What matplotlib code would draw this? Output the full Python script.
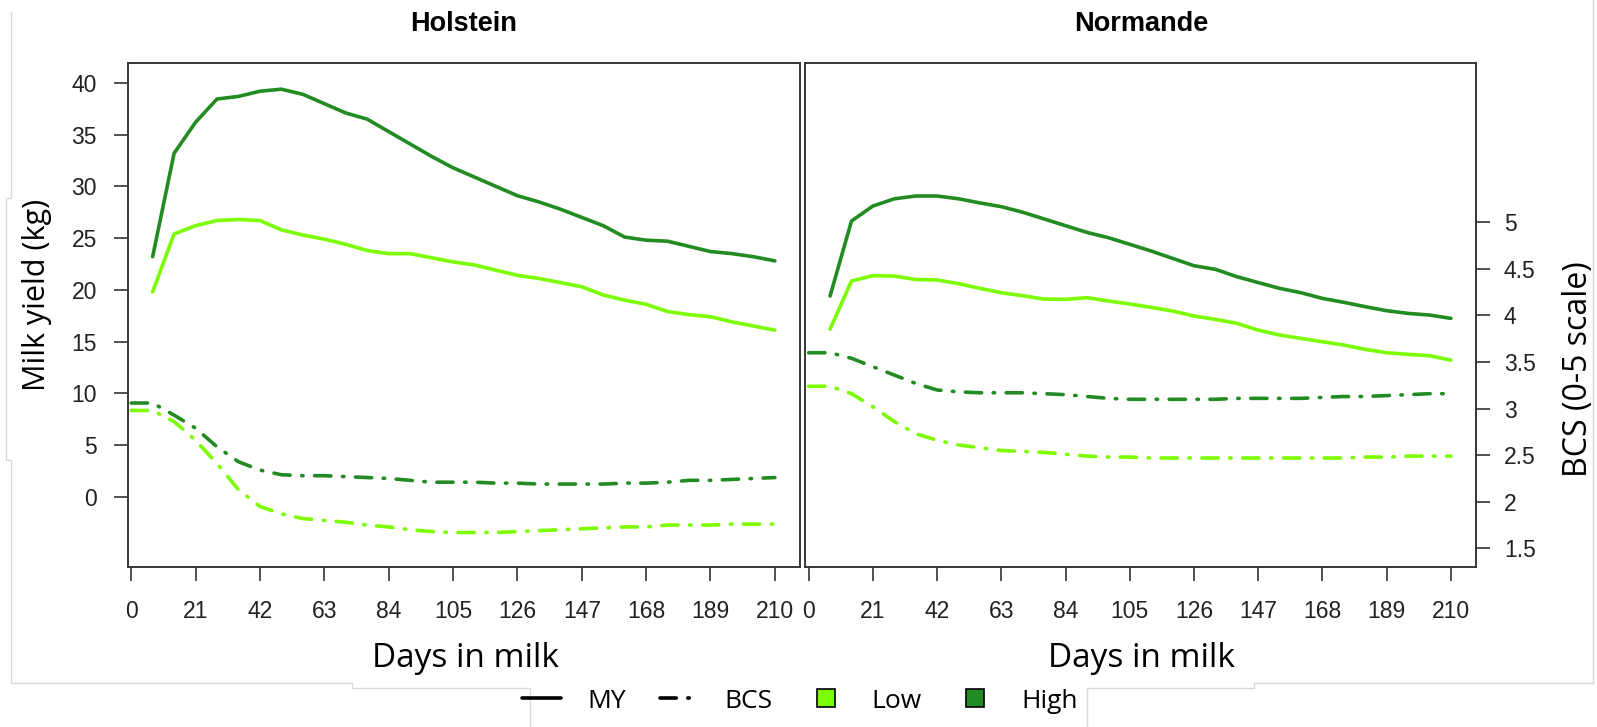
#!/usr/bin/env python3

"""
Milk yield and body condition score curves for Holstein and Normande cows
(low vs high feeding level).
"""

import matplotlib.pyplot as plt
from matplotlib.lines import Line2D

days_my = list(range(7, 211, 7))
days_bcs = list(range(0, 211, 7))

hol_my_high = [23.2, 33.2, 36.2, 38.45, 38.7, 39.2, 39.4, 38.9, 38.0, 37.1,
               36.5, 35.3, 34.1, 32.9, 31.8, 30.9, 30.0, 29.1, 28.5, 27.8,
               27.0, 26.2, 25.1, 24.8, 24.7, 24.2, 23.7, 23.5, 23.2, 22.8]
hol_my_low = [19.8, 25.4, 26.2, 26.7, 26.8, 26.7, 25.8, 25.3, 24.9, 24.4,
              23.8, 23.5, 23.5, 23.1, 22.7, 22.4, 21.9, 21.4, 21.1, 20.7,
              20.3, 19.5, 19.0, 18.6, 17.9, 17.6, 17.4, 16.9, 16.5, 16.1]
nor_my_high = [19.4, 26.65, 28.1, 28.8, 29.07, 29.07, 28.8, 28.4, 28.04, 27.5,
               26.85, 26.2, 25.55, 25.04, 24.4, 23.75, 23.04, 22.33, 21.98,
               21.27, 20.7, 20.14, 19.72, 19.17, 18.79, 18.37, 17.98, 17.72,
               17.56, 17.24]
nor_my_low = [16.2, 20.85, 21.37, 21.33, 21.0, 20.95, 20.6, 20.14, 19.72,
              19.43, 19.1, 19.08, 19.24, 18.92, 18.63, 18.3, 17.95, 17.47,
              17.14, 16.76, 16.1, 15.63, 15.3, 14.98, 14.66, 14.24, 13.92,
              13.76, 13.63, 13.2]

hol_bcs_high = [3.06, 3.06, 2.93, 2.79, 2.59, 2.43, 2.34, 2.29, 2.28, 2.28,
                2.27, 2.26, 2.25, 2.23, 2.21, 2.21, 2.21, 2.20, 2.20, 2.19,
                2.19, 2.19, 2.19, 2.20, 2.20, 2.21, 2.23, 2.23, 2.24, 2.25,
                2.26]
hol_bcs_low = [2.98, 2.98, 2.86, 2.66, 2.41, 2.13, 1.95, 1.87, 1.82, 1.80,
               1.78, 1.75, 1.73, 1.70, 1.68, 1.67, 1.67, 1.67, 1.68, 1.69,
               1.70, 1.71, 1.72, 1.73, 1.73, 1.75, 1.75, 1.75, 1.76, 1.76,
               1.76]
nor_bcs_high = [3.60, 3.60, 3.54, 3.45, 3.36, 3.27, 3.20, 3.18, 3.17, 3.17,
                3.17, 3.16, 3.15, 3.13, 3.11, 3.10, 3.10, 3.10, 3.10, 3.10,
                3.11, 3.11, 3.11, 3.11, 3.12, 3.13, 3.13, 3.14, 3.15, 3.16,
                3.16]
nor_bcs_low = [3.24, 3.24, 3.16, 3.02, 2.86, 2.73, 2.66, 2.61, 2.58, 2.55,
               2.54, 2.53, 2.51, 2.49, 2.48, 2.48, 2.47, 2.47, 2.47, 2.47,
               2.47, 2.47, 2.47, 2.47, 2.47, 2.47, 2.48, 2.48, 2.49, 2.49,
               2.49]

x_ticks = list(range(0, 211, 21))
my_ticks = [0, 5, 10, 15, 20, 25, 30, 35, 40]
bcs_ticks = [1.5, 2, 2.5, 3, 3.5, 4, 4.5, 5]
bcs_tick_labels = ["1.5", "2", "2.5", "3", "3.5", "4", "4.5", "5"]

LOW = "#7CFC00"
HIGH = "#228B22"
LW = 2.6
BCS_DASH = (4.5, 3.2, 0.4, 3.2)

W, H = 1597, 727


def style_box(ax):
    for spine in ax.spines.values():
        spine.set_color("#333333")
        spine.set_linewidth(1.1)


def plot_panel(ax, my_low, my_high, bcs_low, bcs_high):
    ax.plot(days_my, my_low, color=LOW, lw=LW, solid_capstyle="round")
    ax.plot(days_my, my_high, color=HIGH, lw=LW, solid_capstyle="round")
    ax.set_xlim(-1.2, 218.2)
    ax.set_ylim(-6.77, 41.93)
    ax.set_xticks(x_ticks)
    ax.tick_params(axis="x", direction="out", length=10, width=1.1,
                   pad=14, labelsize=16.5, colors="#222222")
    style_box(ax)

    axb = ax.twinx()
    axb.plot(days_bcs, bcs_low, color=LOW, lw=LW, dashes=BCS_DASH,
             dash_capstyle="round")
    axb.plot(days_bcs, bcs_high, color=HIGH, lw=LW, dashes=BCS_DASH,
             dash_capstyle="round")
    axb.set_ylim(1.303, 6.71)
    style_box(axb)
    return axb


def main():
    plt.rcParams.update({"font.family": "Liberation Sans"})
    fig = plt.figure(figsize=(W / 100, H / 100), dpi=100)

    ax1 = fig.add_axes([127.5 / W, 1 - 566.7 / H, 672.5 / W, 503.7 / H])
    ax2 = fig.add_axes([805 / W, 1 - 566.7 / H, 671 / W, 503.7 / H])

    ax1b = plot_panel(ax1, hol_my_low, hol_my_high, hol_bcs_low, hol_bcs_high)
    ax2b = plot_panel(ax2, nor_my_low, nor_my_high, nor_bcs_low, nor_bcs_high)

    # Milk yield axis only on the left panel
    ax1.set_yticks(my_ticks)
    ax1.tick_params(axis="y", direction="out", length=10, width=1.1,
                    pad=12, labelsize=16.5, colors="#222222")
    ax1b.set_yticks([])
    ax2.set_yticks([])

    # BCS axis only on the right panel
    ax2b.set_yticks(bcs_ticks)
    ax2b.set_yticklabels(bcs_tick_labels)
    ax2b.tick_params(axis="y", direction="out", length=10, width=1.1,
                     pad=10, labelsize=16.5, colors="#222222")

    fig.text(463.8 / W, 1 - 30.7 / H, "Holstein", ha="center",
             va="baseline", fontsize=19.5, fontweight="bold")
    fig.text(1141 / W, 1 - 30.7 / H, "Normande", ha="center",
             va="baseline", fontsize=19.5, fontweight="bold")

    fig.text(37 / W, 1 - 295 / H, "Milk yield (kg)", rotation=90,
             ha="center", va="center", fontsize=22, family="Open Sans")
    fig.text(1579 / W, 1 - 369 / H, "BCS (0-5 scale)", rotation=90,
             ha="center", va="center", fontsize=23, family="Open Sans")
    for xc in (465.8, 1141.7):
        fig.text(xc / W, 1 - 666.7 / H, "Days in milk", ha="center",
                 va="baseline", fontsize=24, family="Open Sans")

    handles = [
        Line2D([], [], color="black", lw=LW, solid_capstyle="round"),
        Line2D([], [], color="black", lw=LW, dashes=BCS_DASH,
               dash_capstyle="round"),
        Line2D([], [], ls="none", marker="s", ms=13, mfc=LOW,
               mec="black", mew=1.2),
        Line2D([], [], ls="none", marker="s", ms=13, mfc=HIGH,
               mec="black", mew=1.2),
    ]
    fig.legend(handles, ["MY", "BCS", "Low", "High"], ncol=4,
               loc="center", bbox_to_anchor=(800 / W, 1 - 701 / H),
               frameon=False, borderpad=0, handlelength=1.45,
               handletextpad=1.0, columnspacing=1.3,
               prop={"family": "Open Sans", "size": 19})

    # Faint seams of the pasted figure
    seams = [
        [(11, 12), (11, 198), (6, 198), (6, 460), (11, 460), (11, 683),
         (352, 683), (352, 688), (530, 688), (530, 727)],
        [(1593, 0), (1593, 683), (1254, 683), (1254, 688), (1087, 688),
         (1087, 727)],
    ]
    for seam in seams:
        xs = [p[0] / W for p in seam]
        ys = [1 - p[1] / H for p in seam]
        fig.add_artist(Line2D(xs, ys, color="#d9d9d9", lw=1.0,
                              transform=fig.transFigure))

    fig.savefig("out.png", dpi=100, facecolor="white")


if __name__ == "__main__":
    main()
